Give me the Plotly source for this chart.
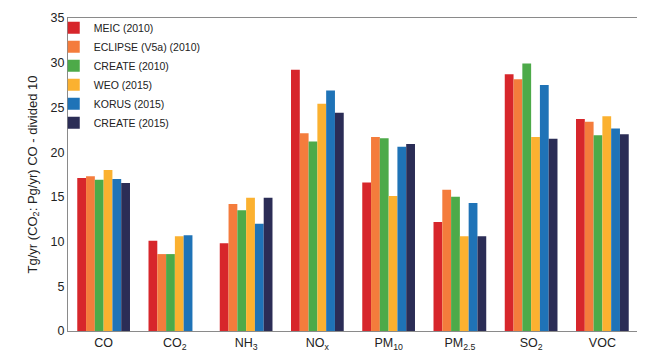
import plotly.graph_objects as go

categories = ["CO", "CO2", "NH3", "NOx", "PM10", "PM2.5", "SO2", "VOC"]
tick_labels = ["CO", "CO<sub>2</sub>", "NH<sub>3</sub>", "NO<sub>x</sub>",
               "PM<sub>10</sub>", "PM<sub>2.5</sub>", "SO<sub>2</sub>", "VOC"]

series_names = ["MEIC (2010)", "ECLIPSE (V5a) (2010)", "CREATE (2010)",
                "WEO (2015)", "KORUS (2015)", "CREATE (2015)"]

meic_2010 = [17.1, 10.1, 9.8, 29.2, 16.6, 12.2, 28.7, 23.7]
eclipse_2010 = [17.3, 8.6, 14.2, 22.1, 21.7, 15.8, 28.15, 23.4]
create_2010 = [16.9, 8.6, 13.5, 21.2, 21.55, 15.0, 29.9, 21.9]
weo_2015 = [18.0, 10.6, 14.9, 25.4, 15.1, 10.6, 21.7, 24.0]
korus_2015 = [17.0, 10.7, 12.0, 26.9, 20.6, 14.3, 27.5, 22.65]
create_2015 = [16.55, None, 14.9, 24.4, 20.9, 10.6, 21.5, 22.0]

colors = ["#d7262b", "#f47c3c", "#4daa49", "#fbb130", "#1f73b7", "#2b2d56"]

all_values = [meic_2010, eclipse_2010, create_2010, weo_2015, korus_2015, create_2015]

fig = go.Figure()
for name, vals, col in zip(series_names, all_values, colors):
    fig.add_trace(go.Bar(
        x=categories, y=vals, name=name,
        marker=dict(color=col, line=dict(width=0)),
    ))

font_family = "Liberation Sans, Arial, sans-serif"

fig.update_layout(
    width=645, height=360,
    barmode="group",
    bargap=0.26,
    bargroupgap=0,
    plot_bgcolor="white",
    paper_bgcolor="white",
    margin=dict(l=60, r=15, t=10, b=37, autoexpand=False),
    font=dict(family=font_family, size=12, color="#222222"),
    legend=dict(
        x=-0.025, y=1.015, xanchor="left", yanchor="top",
        font=dict(size=10.5, color="#222222"),
        bgcolor="rgba(0,0,0,0)",
        tracegroupgap=0,
        itemwidth=30,
    ),
    xaxis=dict(
        tickmode="array", tickvals=categories, ticktext=tick_labels,
        showline=True, linecolor="#8a8a8a", linewidth=1, mirror=True,
        ticks="", showgrid=False, automargin=False,
        tickfont=dict(size=12.5),
    ),
    yaxis=dict(
        range=[0, 35], dtick=5,
        showline=True, linecolor="#8a8a8a", linewidth=1, mirror=True,
        ticks="", showgrid=False, zeroline=False, automargin=False,
        tickfont=dict(size=12.5),
        title=dict(text="Tg/yr (CO<sub>2</sub>: Pg/yr) CO - divided 10",
                   font=dict(size=13), standoff=10),
    ),
)

fig.write_html("out.html")
